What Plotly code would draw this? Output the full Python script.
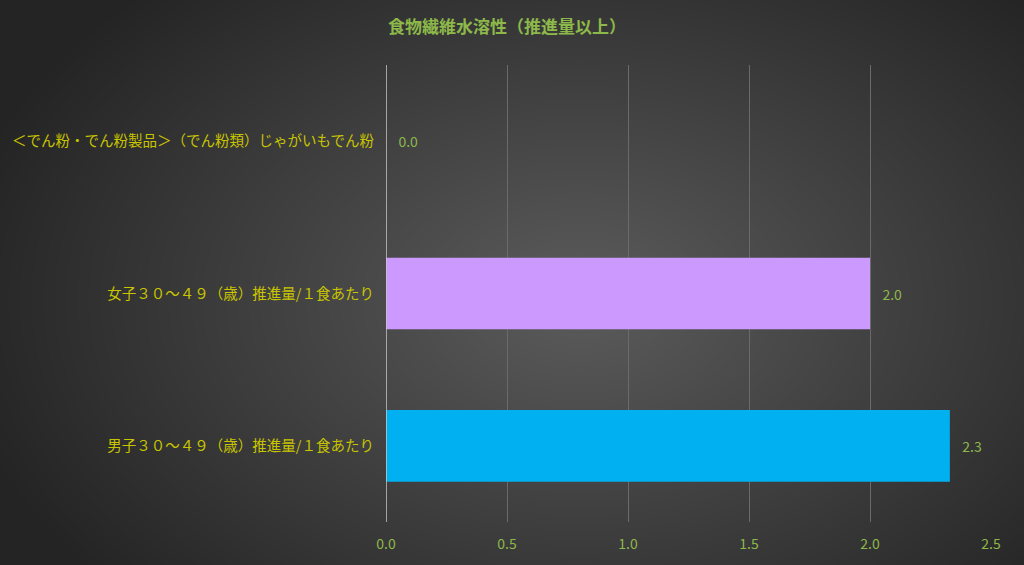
import base64
import struct
import zlib

import numpy as np
import plotly.graph_objects as go

categories = [
    "男子３０～４９（歳）推進量/１食あたり",
    "女子３０～４９（歳）推進量/１食あたり",
    "＜でん粉・でん粉製品＞（でん粉類）じゃがいもでん粉",
]
values = [2.33, 2.0, 0.0]
bar_colors = ["#00B0F0", "#CC99FF", "#CC99FF"]
x_ticks = [0.0, 0.5, 1.0, 1.5, 2.0, 2.5]

W, H = 1024, 565
L, R, T, B = 386, 33, 65, 43


def gradient_png(w, h):
    # radial gradient, lighter in the middle, dark at the edges
    yy, xx = np.mgrid[0:h, 0:w]
    d = np.sqrt(((xx - 580) / 640.0) ** 2 + ((yy - 300) / 430.0) ** 2)
    d = np.clip(d, 0, 1)
    v = (92 - 56 * d).astype(np.uint8)
    raw = b"".join(b"\x00" + v[i].tobytes() for i in range(h))

    def chunk(tag, data):
        c = struct.pack(">I", len(data)) + tag + data
        return c + struct.pack(">I", zlib.crc32(tag + data) & 0xFFFFFFFF)

    png = b"\x89PNG\r\n\x1a\n"
    png += chunk(b"IHDR", struct.pack(">IIBBBBB", w, h, 8, 0, 0, 0, 0))
    png += chunk(b"IDAT", zlib.compress(raw, 9))
    png += chunk(b"IEND", b"")
    return "data:image/png;base64," + base64.b64encode(png).decode()


pw = W - L - R
ph = H - T - B

fig = go.Figure()
fig.add_bar(
    y=categories,
    x=values,
    orientation="h",
    marker=dict(color=bar_colors, line=dict(width=0)),
    width=0.47,
    text=values,
    texttemplate="   %{x:.1f}",
    textposition="outside",
    textfont=dict(color="#8DB84A", size=14, family="Noto Sans CJK JP"),
    cliponaxis=False,
)

fig.update_layout(
    width=W,
    height=H,
    margin=dict(l=L, r=R, t=T, b=B),
    paper_bgcolor="#3a3a3a",
    plot_bgcolor="rgba(0,0,0,0)",
    showlegend=False,
    title=dict(
        text="<b>食物繊維水溶性（推進量以上）</b>",
        x=507 / W,
        xanchor="center",
        y=1 - 27 / H,
        yanchor="middle",
        font=dict(color="#8DB84A", size=17, family="Noto Sans CJK JP"),
    ),
    images=[dict(
        source=gradient_png(W, H),
        xref="paper", yref="paper",
        x=-L / pw, y=1 + T / ph,
        sizex=W / pw, sizey=H / ph,
        xanchor="left", yanchor="top",
        sizing="stretch", layer="below",
    )],
    xaxis=dict(
        range=[0, 2.5],
        tickvals=x_ticks,
        tickformat=".1f",
        showgrid=True,
        gridcolor="#6a6a6a",
        gridwidth=1,
        zeroline=False,
        showline=False,
        tickfont=dict(color="#8DB84A", size=14, family="Noto Sans CJK JP"),
        ticklabelstandoff=12,
    ),
    yaxis=dict(
        showgrid=False,
        zeroline=False,
        showline=False,
        ticks="",
        ticklabelstandoff=11,
        tickfont=dict(color="#C8C400", size=14.5, family="Noto Sans CJK JP"),
    ),
    bargap=0.53,
)

# zero line, drawn on the x axis scale
fig.add_shape(type="line", xref="x", yref="paper", x0=0, x1=0, y0=0, y1=1,
              line=dict(color="#c8c8c8", width=1.5))

fig.write_html("out.html", config={"displayModeBar": False},
               post_script="document.body.style.margin='0';")
